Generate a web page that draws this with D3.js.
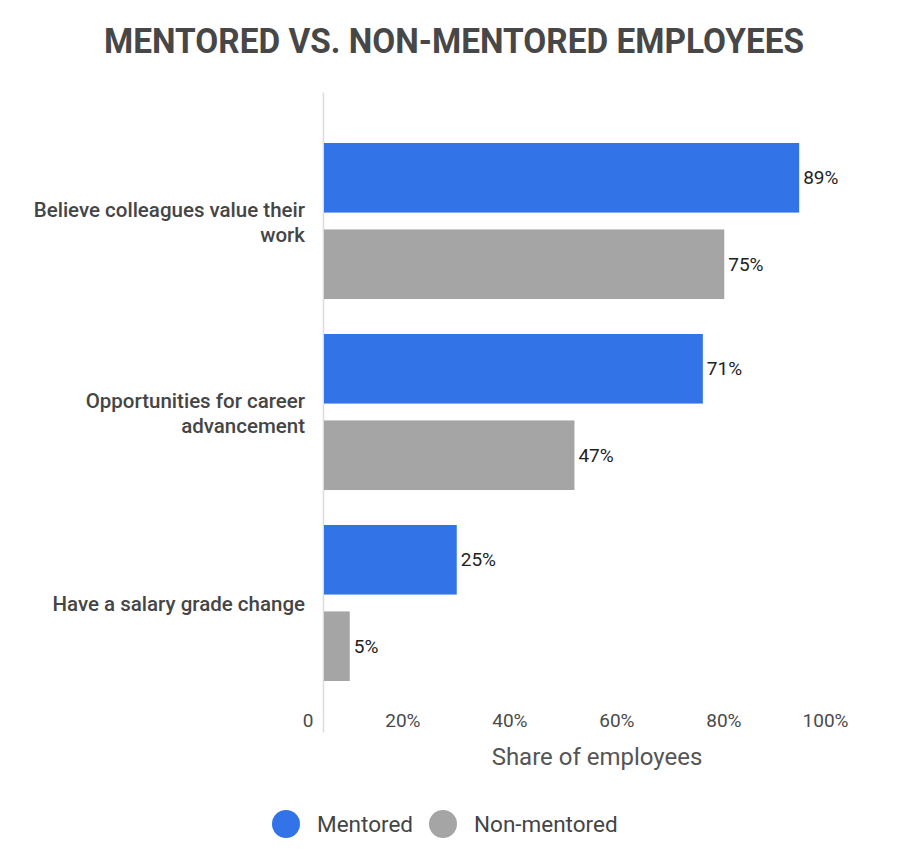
<!DOCTYPE html>
<html>
<head>
<meta charset="utf-8">
<script src="https://cdn.jsdelivr.net/npm/d3@7"></script>
<style>
  body { margin: 0; background: #fff; }
  svg { display: block; font-family: Roboto, "Noto Sans", sans-serif; }
</style>
</head>
<body>
<div id="chart"></div>
<script>
var categories = ["Believe colleagues value their work", "Opportunities for career advancement", "Have a salary grade change"];
var seriesNames = ["Mentored", "Non-mentored"];
var mentored = [89, 71, 25];
var nonMentored = [75, 47, 5];
var tickValues = [0, 20, 40, 60, 80, 100];
var tickLabels = ["0", "20%", "40%", "60%", "80%", "100%"];

var width = 898, height = 854;
var colors = {"Mentored": "#3274e8", "Non-mentored": "#a5a5a5"};

var svg = d3.select("#chart").append("svg")
  .attr("width", width)
  .attr("height", height);

// title
svg.append("text")
  .attr("x", 454)
  .attr("y", 53)
  .attr("text-anchor", "middle")
  .attr("font-size", 35)
  .attr("font-weight", 700)
  .attr("fill", "#474747")
  .attr("textLength", 700)
  .attr("lengthAdjust", "spacingAndGlyphs")
  .text("MENTORED VS. NON-MENTORED EMPLOYEES");

var x = d3.scaleLinear().domain([0, 100]).range([323, 858]);

var y0 = d3.scaleBand()
  .domain(categories)
  .range([92, 732])
  .paddingInner(0.183)
  .paddingOuter(0.267);

var y1 = d3.scaleBand()
  .domain(seriesNames)
  .range([0, y0.bandwidth()])
  .paddingInner(0.195);

var rows = categories.map(function(c, i) {
  return {cat: c, values: [
    {name: "Mentored", value: mentored[i]},
    {name: "Non-mentored", value: nonMentored[i]}
  ]};
});

// vertical baseline
var yAxis = d3.axisLeft(y0).tickSize(0).tickFormat("");
var yG = svg.append("g")
  .attr("transform", "translate(" + x(0) + ",0)")
  .call(yAxis);
yG.select(".domain").attr("stroke", "#dcdcdc").attr("stroke-width", 1.5);

// bars
var groups = svg.append("g").selectAll(".group")
  .data(rows)
  .enter().append("g")
  .attr("class", "group")
  .attr("transform", function(d) { return "translate(0," + y0(d.cat) + ")"; });

groups.selectAll("rect")
  .data(function(d) { return d.values; })
  .enter().append("rect")
  .attr("x", x(0) + 1)
  .attr("y", function(d) { return y1(d.name); })
  .attr("width", function(d) { return x(d.value) - x(0) - 1; })
  .attr("height", y1.bandwidth())
  .attr("fill", function(d) { return colors[d.name]; });

groups.selectAll(".val")
  .data(function(d) { return d.values; })
  .enter().append("text")
  .attr("class", "val")
  .attr("x", function(d) { return x(d.value) + 4; })
  .attr("y", function(d) { return y1(d.name) + y1.bandwidth() / 2; })
  .attr("dy", "0.35em")
  .attr("font-size", 19)
  .attr("fill", "#222")
  .text(function(d) { return d.value + "%"; });

// category labels, wrapped
var catLabels = svg.append("g").selectAll(".cat")
  .data(categories)
  .enter().append("text")
  .attr("class", "cat")
  .attr("text-anchor", "end")
  .attr("font-size", 20.5)
  .attr("font-weight", 500)
  .attr("fill", "#454545");

catLabels.each(function(d) {
  var text = d3.select(this);
  var words = d.split(" "), lines = [], line = [];
  var probe = text.append("tspan");
  words.forEach(function(w) {
    line.push(w);
    probe.text(line.join(" "));
    if (probe.node().getComputedTextLength() > 285 && line.length > 1) {
      line.pop();
      lines.push(line.join(" "));
      line = [w];
    }
  });
  lines.push(line.join(" "));
  probe.remove();
  var cy = y0(d) + y0.bandwidth() / 2;
  lines.forEach(function(l, i) {
    text.append("tspan")
      .attr("x", 305)
      .attr("y", cy + (i - (lines.length - 1) / 2) * 25 + 1)
      .attr("dy", "0.35em")
      .text(l);
  });
});

// x axis tick labels
var xAxis = d3.axisBottom(x)
  .tickValues(tickValues)
  .tickSize(0)
  .tickPadding(0)
  .tickFormat(function(d, i) { return tickLabels[i]; });

var xG = svg.append("g")
  .attr("transform", "translate(0,713)")
  .call(xAxis);
xG.select(".domain").remove();
xG.selectAll("text")
  .attr("text-anchor", "end")
  .attr("dx", -10)
  .attr("font-size", 19)
  .attr("font-family", "Roboto, sans-serif")
  .attr("fill", "#4a4a4a");

svg.append("text")
  .attr("x", 597)
  .attr("y", 765)
  .attr("text-anchor", "middle")
  .attr("font-size", 24)
  .attr("fill", "#555")
  .text("Share of employees");

// legend
var legendX = [286, 443];
var legend = svg.append("g").selectAll(".leg")
  .data(seriesNames)
  .enter().append("g")
  .attr("class", "leg")
  .attr("transform", function(d, i) { return "translate(" + legendX[i] + ",824)"; });

legend.append("circle")
  .attr("r", 14)
  .attr("fill", function(d) { return colors[d]; });

legend.append("text")
  .attr("x", 31)
  .attr("dy", "0.35em")
  .attr("font-size", 22.5)
  .attr("fill", "#444")
  .text(function(d) { return d; });
</script>
</body>
</html>
